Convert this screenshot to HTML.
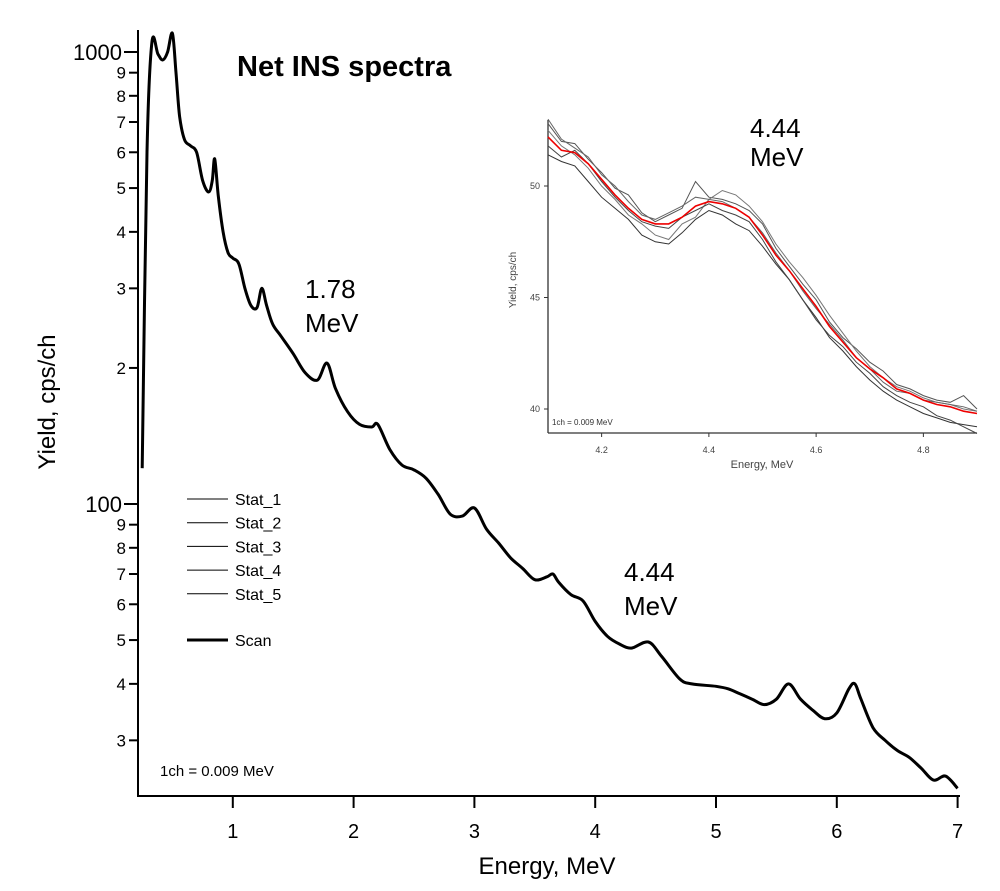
<!DOCTYPE html>
<html><head><meta charset="utf-8"><style>
html,body{margin:0;padding:0;background:#fff}
svg{display:block;font-family:"Liberation Sans",Arial,sans-serif}
</style></head><body>
<svg id="chart" width="1000" height="891" viewBox="0 0 1000 891" xmlns="http://www.w3.org/2000/svg"></svg>
<script>
// ---- main chart data ----
const mainEnergy = [0.25,0.29,0.33,0.38,0.42,0.46,0.5,0.53,0.56,0.6,0.65,0.7,0.75,0.8,0.83,0.85,0.88,0.92,0.96,1.0,1.05,1.1,1.15,1.2,1.24,1.28,1.33,1.4,1.5,1.6,1.7,1.78,1.85,1.95,2.05,2.15,2.2,2.3,2.4,2.5,2.6,2.7,2.8,2.9,3.0,3.1,3.2,3.3,3.4,3.5,3.6,3.65,3.7,3.8,3.9,4.0,4.1,4.2,4.3,4.44,4.55,4.7,4.8,5.0,5.1,5.2,5.3,5.4,5.5,5.6,5.7,5.8,5.9,6.0,6.1,6.15,6.2,6.3,6.4,6.5,6.6,6.7,6.8,6.9,7.0];
const mainScan =   [120,600,1050,990,960,1000,1100,900,720,640,620,600,520,490,520,580,480,400,360,350,340,300,275,272,300,275,250,235,215,195,188,205,180,160,150,148,150,132,122,119,114,105,95,94,98,88,82,76,72,68,69,70,67,63,61,55,51,49,48,49.5,46,41,40,39.5,39,38,37,36,37,40,37,35,33.5,34.5,39,40,37,32,30,28.5,27.5,26,24.5,25,23.5];
const xTicks = [1,2,3,4,5,6,7];
const yMajor = [100,1000];
const yMinor = [30,40,50,60,70,80,90,200,300,400,500,600,700,800,900];
const yMinorLabels = ["3","4","5","6","7","8","9","2","3","4","5","6","7","8","9"];
const legendNames = ["Stat_1","Stat_2","Stat_3","Stat_4","Stat_5"];
// ---- inset data ----
const insetEnergy = [4.1,4.125,4.15,4.175,4.2,4.225,4.25,4.275,4.3,4.325,4.35,4.375,4.4,4.425,4.45,4.475,4.5,4.525,4.55,4.575,4.6,4.625,4.65,4.675,4.7,4.725,4.75,4.775,4.8,4.825,4.85,4.875,4.9];
const insetScan = [52.2,51.6,51.5,51.0,50.3,49.6,49.0,48.5,48.3,48.3,48.6,49.1,49.3,49.2,49.0,48.6,47.8,46.9,46.2,45.4,44.6,43.7,43.0,42.3,41.8,41.4,40.9,40.7,40.4,40.2,40.1,39.9,39.8];
const insetStat1 = [52.8,52.0,51.9,51.2,50.6,49.9,49.6,48.8,48.4,48.7,49.0,50.2,49.5,49.4,49.2,48.9,48.3,47.2,46.4,45.6,44.9,43.9,43.2,42.7,42.1,41.7,41.1,40.9,40.6,40.4,40.3,40.6,40.0];
const insetStat2 = [51.4,51.1,50.9,50.2,49.5,49.0,48.5,47.8,47.5,47.4,47.9,48.5,48.9,48.7,48.3,48.0,47.3,46.5,45.8,44.9,44.1,43.2,42.6,41.9,41.3,40.8,40.4,40.1,39.8,39.6,39.4,39.3,39.2];
const insetStat3 = [52.5,51.8,51.4,50.8,50.0,49.4,48.7,48.3,47.8,47.6,48.3,48.6,49.4,49.8,49.6,49.1,48.4,47.4,46.6,45.9,45.1,44.2,43.4,42.6,41.9,41.4,41.0,40.8,40.5,40.3,40.2,40.0,39.9];
const insetStat4 = [51.8,51.3,51.6,51.0,50.2,49.5,48.9,48.4,48.2,48.1,48.6,48.9,49.2,48.9,48.7,48.4,47.6,46.6,45.8,44.9,44.0,43.3,42.8,42.1,41.6,41.0,40.6,40.3,40.1,39.7,39.5,39.2,38.9];
const insetStat5 = [53.0,52.1,51.7,51.3,50.5,50.0,49.3,48.7,48.5,48.8,49.1,49.5,49.4,49.3,49.0,48.6,47.9,47.0,46.2,45.3,44.5,43.8,43.1,42.3,41.8,41.2,40.8,40.7,40.4,40.3,40.2,40.1,39.9];
const insetXTicks = [4.2,4.4,4.6,4.8];
const insetYTicks = [40,45,50];

const NS="http://www.w3.org/2000/svg";
const svg=document.getElementById('chart');
function mk(tag,attrs,parent,text){const e=document.createElementNS(NS,tag);for(const k in attrs)e.setAttribute(k,attrs[k]);if(text!==undefined)e.textContent=text;(parent||svg).appendChild(e);return e;}
function smooth(pts){
  let s='M'+pts[0][0].toFixed(1)+','+pts[0][1].toFixed(1);
  for(let i=0;i<pts.length-1;i++){
    const p0=pts[Math.max(0,i-1)],p1=pts[i],p2=pts[i+1],p3=pts[Math.min(pts.length-1,i+2)];
    const c1x=p1[0]+(p2[0]-p0[0])/6,c1y=p1[1]+(p2[1]-p0[1])/6;
    const c2x=p2[0]-(p3[0]-p1[0])/6,c2y=p2[1]-(p3[1]-p1[1])/6;
    s+=' C'+c1x.toFixed(1)+','+c1y.toFixed(1)+' '+c2x.toFixed(1)+','+c2y.toFixed(1)+' '+p2[0].toFixed(1)+','+p2[1].toFixed(1);
  }
  return s;
}

// main scales
const X=e=>112+120.8*e;
const Y=v=>504-452*(Math.log10(v)-2);
let a=mk('line',{x1:138,y1:30,x2:138,y2:796,stroke:'#000','stroke-width':2});


a=mk('line',{x1:137,y1:796,x2:960,y2:796,stroke:'#000','stroke-width':2});


xTicks.forEach(t=>{
  mk('line',{x1:X(t),y1:796,x2:X(t),y2:808,stroke:'#000','stroke-width':2});
  const l=mk('text',{x:X(t),y:838,'text-anchor':'middle','font-size':20},svg,String(t));
  
  
});
yMajor.forEach(t=>{
  mk('line',{x1:124,y1:Y(t),x2:138,y2:Y(t),stroke:'#000','stroke-width':2});
  const l=mk('text',{x:122,y:Y(t)+8,'text-anchor':'end','font-size':22},svg,String(t));
  
  
});
yMinor.forEach((t,i)=>{
  mk('line',{x1:129,y1:Y(t),x2:138,y2:Y(t),stroke:'#000','stroke-width':2});
  const l=mk('text',{x:126,y:Y(t)+6,'text-anchor':'end','font-size':17},svg,yMinorLabels[i]);
  
  
});
const sl=mk('path',{d:smooth(mainEnergy.map((e,i)=>[X(e),Y(mainScan[i])])),fill:'none',stroke:'#000','stroke-width':3,'stroke-linejoin':'round'});


legendNames.forEach((n,i)=>{
  const y=499+23.7*i;
  mk('line',{x1:187,y1:y,x2:228,y2:y,stroke:'#000','stroke-width':1});
  const t=mk('text',{x:235,y:y+6,'font-size':16},svg,n);
  
  
});
mk('line',{x1:187,y1:640,x2:228,y2:640,stroke:'#000','stroke-width':3});
let t=mk('text',{x:235,y:646,'font-size':16},svg,'Scan');


t=mk('text',{x:160,y:776,'font-size':15},svg,'1ch = 0.009 MeV');


t=mk('text',{x:237,y:76,'font-size':29,'font-weight':'bold'},svg,'Net INS spectra');


t=mk('text',{x:305,y:298,'font-size':26},svg,'1.78');


mk('text',{x:305,y:332,'font-size':26},svg,'MeV');
t=mk('text',{x:624,y:581,'font-size':26},svg,'4.44');


mk('text',{x:624,y:615,'font-size':26},svg,'MeV');
t=mk('text',{x:547,y:874,'text-anchor':'middle','font-size':24},svg,'Energy, MeV');


t=mk('text',{x:0,y:0,'text-anchor':'middle','font-size':24,transform:'translate(55,402) rotate(-90)'},svg,'Yield, cps/ch');



// ---- inset ----
const IX=e=>548+(e-4.1)*536.25;
const IY=v=>186+(50-v)*22.3;
const g=mk('g',{});


mk('line',{x1:548,y1:120,x2:548,y2:433,stroke:'#333','stroke-width':1.3},g);
mk('line',{x1:548,y1:433,x2:977,y2:433,stroke:'#333','stroke-width':1.3},g);
insetXTicks.forEach(v=>{
  mk('line',{x1:IX(v),y1:433,x2:IX(v),y2:437,stroke:'#333'},g);
  const l=mk('text',{x:IX(v),y:453,'text-anchor':'middle','font-size':9,fill:'#444'},g,v.toFixed(1));
  
  
});
insetYTicks.forEach(v=>{
  mk('line',{x1:544,y1:IY(v),x2:548,y2:IY(v),stroke:'#333'},g);
  const l=mk('text',{x:540,y:IY(v)+3,'text-anchor':'end','font-size':9,fill:'#444'},g,String(v));
  
  
});
const stats=[insetStat1,insetStat2,insetStat3,insetStat4,insetStat5];
const cols=['#555','#333','#777','#444','#666'];
stats.forEach((s,k)=>{
  const dd=insetEnergy.map((e,i)=>(i?'L':'M')+IX(e).toFixed(1)+','+IY(s[i]).toFixed(1)).join(' ');
  const p=mk('path',{d:dd,fill:'none',stroke:cols[k],'stroke-width':1},g);
  
  
});
const d=insetEnergy.map((e,i)=>(i?'L':'M')+IX(e).toFixed(1)+','+IY(insetScan[i]).toFixed(1)).join(' ');
const rp=mk('path',{d:d,fill:'none',stroke:'#e00','stroke-width':1.6},g);


t=mk('text',{x:552,y:425,'font-size':8,fill:'#333'},g,'1ch = 0.009 MeV');


t=mk('text',{x:762,y:468,'text-anchor':'middle','font-size':11,fill:'#444'},g,'Energy, MeV');


t=mk('text',{x:0,y:0,'text-anchor':'middle','font-size':10,fill:'#444',transform:'translate(516,280) rotate(-90)'},g,'Yield, cps/ch');


t=mk('text',{x:750,y:137,'font-size':26},g,'4.44');


mk('text',{x:750,y:166,'font-size':26},g,'MeV');
</script>
</body></html>
